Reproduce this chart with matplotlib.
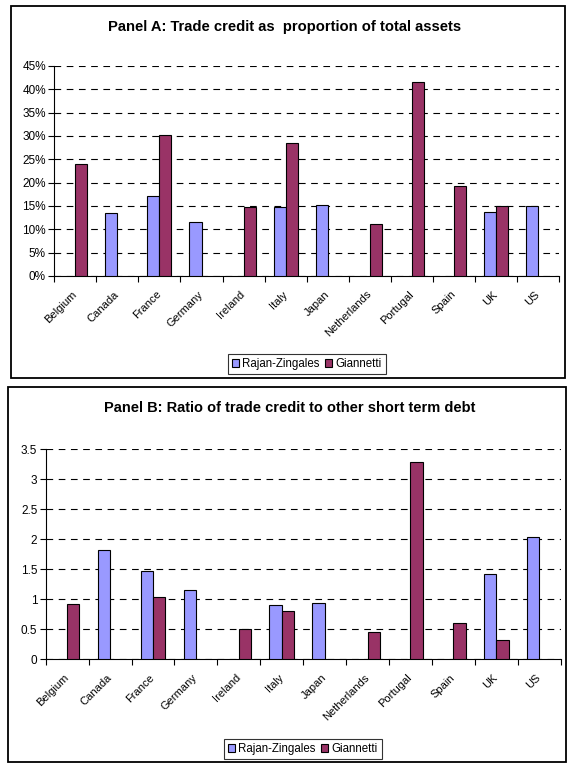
import numpy as np
import matplotlib
matplotlib.use("Agg")
import matplotlib.pyplot as plt
from matplotlib.patches import Rectangle, Patch
from matplotlib.ticker import FuncFormatter
from matplotlib.transforms import ScaledTranslation

plt.rcParams['font.family'] = ['Liberation Sans', 'DejaVu Sans']

countries = ["Belgium", "Canada", "France", "Germany", "Ireland", "Italy",
             "Japan", "Netherlands", "Portugal", "Spain", "UK", "US"]

# Panel A: trade credit as proportion of total assets (%)
a_rajan = [None, 13.4, 17.1, 11.6, None, 14.7, 15.3, None, None, None, 13.7, 15.0]
a_giannetti = [24.1, None, 30.3, None, 14.7, 28.4, None, 11.2, 41.5, 19.2, 15.1, None]

# Panel B: ratio of trade credit to other short term debt
b_rajan = [None, 1.82, 1.47, 1.16, None, 0.91, 0.93, None, None, None, 1.42, 2.04]
b_giannetti = [0.92, None, 1.04, None, 0.50, 0.80, None, 0.46, 3.29, 0.60, 0.32, None]

series_names = ["Rajan-Zingales", "Giannetti"]
title_a = "Panel A: Trade credit as  proportion of total assets"
title_b = "Panel B: Ratio of trade credit to other short term debt"

c_rz = "#9999FF"
c_g = "#993366"

W, H = 568, 764
fig = plt.figure(figsize=(W / 100, H / 100), dpi=100)


def fx(px):
    return px / W


def fy(py):
    return 1 - py / H


# panel frames
for (x0, y0, x1, y1) in [(11, 6, 565, 378), (8, 387, 566, 762)]:
    fig.add_artist(Rectangle((fx(x0), fy(y1)), fx(x1) - fx(x0), fy(y0) - fy(y1),
                             transform=fig.transFigure, fill=False,
                             edgecolor="black", linewidth=1.3))


def draw_panel(ax, rz, gi, ymax, ystep, fmt):
    x = np.arange(len(countries))
    w = 1 / 3.5
    xr = [xi - w / 2 for xi, v in zip(x, rz) if v is not None]
    hr = [v for v in rz if v is not None]
    xg = [xi + w / 2 for xi, v in zip(x, gi) if v is not None]
    hg = [v for v in gi if v is not None]
    ax.bar(xr, hr, width=w, color=c_rz, edgecolor="black", linewidth=0.8, zorder=3)
    ax.bar(xg, hg, width=w, color=c_g, edgecolor="black", linewidth=0.8, zorder=3)
    ax.set_xlim(-0.5, len(countries) - 0.5)
    ax.set_ylim(0, ymax)
    ax.set_yticks(np.arange(0, ymax + ystep / 2, ystep))
    ax.yaxis.set_major_formatter(FuncFormatter(fmt))
    ax.set_xticks(x)
    ax.set_xticklabels(countries, rotation=45, ha="right", va="center",
                       rotation_mode="anchor", fontsize=8)
    shift = ScaledTranslation(-7 / 100, 2 / 100, fig.dpi_scale_trans)
    for lab in ax.get_xticklabels():
        lab.set_transform(lab.get_transform() + shift)
    ax.set_xticks(np.arange(-0.5, len(countries)), minor=True)
    ax.tick_params(axis="x", which="major", length=0, pad=12)
    ax.tick_params(axis="x", which="minor", length=4, direction="out", width=0.8)
    ax.tick_params(axis="y", length=4, direction="out", width=0.8, labelsize=8.5, pad=2)
    for s in ["top", "right"]:
        ax.spines[s].set_visible(False)
    for s in ["left", "bottom"]:
        ax.spines[s].set_linewidth(0.8)
    ax.yaxis.grid(True, linestyle=(0, (6, 5)), color="black", linewidth=0.8, zorder=0)
    ax.set_axisbelow(True)


axA = fig.add_axes([fx(54.3), fy(276), fx(559) - fx(54.3), fy(66) - fy(276)])
draw_panel(axA, a_rajan, a_giannetti, 45, 5, lambda v, p: f"{v:.0f}%")
fig.text(fx(285), fy(27), title_a, ha="center", va="center", fontsize=10.6,
         fontweight="bold")

axB = fig.add_axes([fx(45.7), fy(659.3), fx(560.7) - fx(45.7), fy(449) - fy(659.3)])
draw_panel(axB, b_rajan, b_giannetti, 3.5, 0.5, lambda v, p: f"{v:g}")
fig.text(fx(290), fy(408), title_b, ha="center", va="center", fontsize=10.5,
         fontweight="bold")

handles = [Patch(facecolor=c_rz, edgecolor="black", linewidth=0.8),
           Patch(facecolor=c_g, edgecolor="black", linewidth=0.8)]
for (cx, cy) in [((226.7 + 386.7) / 2, (353.3 + 375) / 2), ((222 + 384) / 2, (738.3 + 760) / 2)]:
    leg = fig.legend(handles, series_names, loc="center", bbox_to_anchor=(fx(cx), fy(cy)),
                     ncol=2, fontsize=8.3, frameon=True, fancybox=False,
                     handlelength=0.6, handleheight=0.6, handletextpad=0.3,
                     columnspacing=0.5, borderpad=0.35)
    leg.get_frame().set_edgecolor("black")
    leg.get_frame().set_linewidth(0.8)

fig.savefig("out.png", dpi=100)
